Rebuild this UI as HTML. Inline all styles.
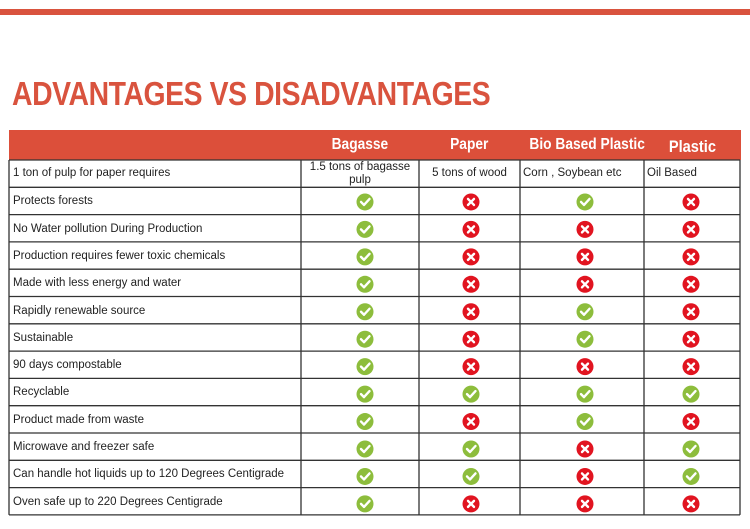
<!DOCTYPE html>
<html><head><meta charset="utf-8"><style>
body{margin:0;width:750px;height:529px;background:#fff;position:relative;overflow:hidden;font-family:"Liberation Sans",sans-serif;}
.a{position:absolute}
.t{font-weight:bold;color:#d9533e;font-size:33px;left:12px;top:75px;letter-spacing:-0.5px;transform:scaleX(0.86);transform-origin:left;white-space:nowrap}
.h{color:#fff;font-weight:bold;font-size:16px;text-align:center;top:136px;white-space:nowrap}
.h span{display:inline-block;transform:scaleX(0.86)}
.l{font-size:11.5px;color:#222;left:13px;white-space:nowrap}
.c{font-size:11.5px;color:#222;text-align:center;white-space:nowrap}
</style></head><body>
<div class="a" style="left:0;top:9px;width:750px;height:6px;background:#d9533e"></div>
<div class="a t">ADVANTAGES VS DISADVANTAGES</div>
<div class="a" style="left:9px;top:130px;width:732px;height:30px;background:#dc4f3a"></div>
<div class="a h" style="left:301px;width:118px"><span>Bagasse</span></div>
<div class="a h" style="left:419px;width:101px"><span>Paper</span></div>
<div class="a h" style="left:520px;width:130px"><span>Bio Based Plastic</span></div>
<div class="a h" style="left:644px;width:96px;font-size:17px;top:137px"><span>Plastic</span></div>
<svg class="a" style="left:0;top:0" width="750" height="529" id="s"></svg>
<div id="c"></div>
<script>
var rows=[
["Protects forests","1010"],["No Water pollution During Production","1000"],["Production requires fewer toxic chemicals","1000"],["Made with less energy and water","1000"],["Rapidly renewable source","1010"],["Sustainable","1010"],["90 days compostable","1000"],["Recyclable","1111"],["Product made from waste","1010"],["Microwave and freezer safe","1101"],["Can handle hot liquids up to 120 Degrees Centigrade","1101"],["Oven safe up to 220 Degrees Centigrade","1000"]];
var rh=27.3,y0=160,xs=[9,301,419,520,644,740],ic=[365,471,585,691];
var s='';
for(var i=0;i<=13;i++){var y=y0+i*rh;s+='<line x1="9" x2="740" y1="'+y+'" y2="'+y+'" stroke="#333" stroke-width="1.3"/>';}
xs.forEach(function(x){s+='<line x1="'+x+'" x2="'+x+'" y1="160" y2="'+(y0+13*rh)+'" stroke="#333" stroke-width="1.3"/>';});
var h='';
h+='<div class="a l" style="top:167px">1 ton of pulp for paper requires</div>';
h+='<div class="a c" style="left:301px;width:118px;top:161px;line-height:13px">1.5 tons of bagasse<br>pulp</div>';
h+='<div class="a c" style="left:419px;width:101px;top:167px">5 tons of wood</div>';
h+='<div class="a c" style="left:520px;width:124px;top:167px;text-align:left;padding-left:3px">Corn , Soybean etc</div>';
h+='<div class="a c" style="left:644px;width:96px;top:167px;text-align:left;padding-left:3px">Oil Based</div>';
rows.forEach(function(r,k){var y=y0+(k+1)*rh;h+='<div class="a l" style="top:'+(y+8)+'px">'+r[0]+'</div>';
for(var j=0;j<4;j++){var cy=y+rh/2+1+k*0.15;var cx=ic[j];
if(r[1][j]=='1'){s+='<circle cx="'+cx+'" cy="'+cy+'" r="8.5" fill="#8dbd3c"/><path d="M'+(cx-4)+' '+cy+' l3 3 l5.5 -6" stroke="#fff" stroke-width="2.4" fill="none" stroke-linecap="round" stroke-linejoin="round"/>';}
else{s+='<circle cx="'+cx+'" cy="'+cy+'" r="8.5" fill="#e11420"/><path d="M'+(cx-3)+' '+(cy-3)+' l6 6 M'+(cx+3)+' '+(cy-3)+' l-6 6" stroke="#fff" stroke-width="2.4" stroke-linecap="round"/>';}}});
document.getElementById('s').innerHTML=s;document.getElementById('c').innerHTML=h;
</script>
</body></html>
